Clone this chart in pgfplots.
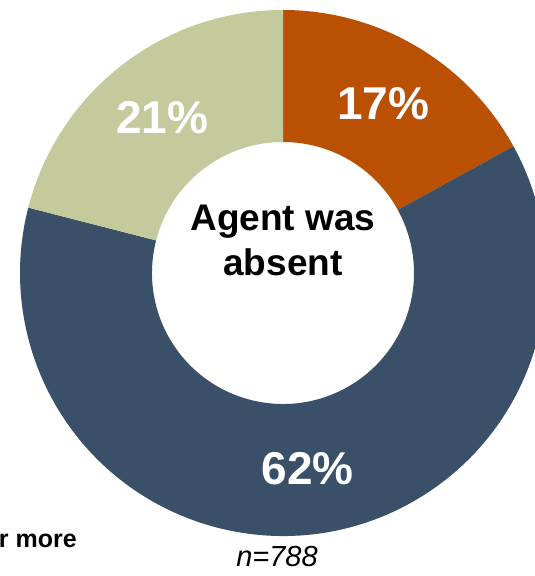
\documentclass[border=0pt]{standalone}
\usepackage{pgfplots}
\usepackage{pgfplotstable}
\pgfplotsset{compat=1.18}
\usepackage{fontspec}
\setmainfont{Liberation Sans}
\definecolor{cOrange}{RGB}{186,81,2}
\definecolor{cBlue}{RGB}{58,79,104}
\definecolor{cBeige}{RGB}{197,202,157}

\pgfplotstableread{
share color
17 cOrange
62 cBlue
21 cBeige
}\shares

\begin{document}
\begin{tikzpicture}
\pgfplotstablegetelem{0}{share}\of\shares \edef\sA{\pgfplotsretval}
\pgfplotstablegetelem{1}{share}\of\shares \edef\sB{\pgfplotsretval}
\pgfplotstablegetelem{2}{share}\of\shares \edef\sC{\pgfplotsretval}
\pgfmathsetmacro\aA{90}
\pgfmathsetmacro\aB{\aA-3.6*\sA}
\pgfmathsetmacro\aC{\aB-3.6*\sB}
\pgfmathsetmacro\aD{\aC-3.6*\sC}
\pgfmathsetmacro\mA{(\aA+\aB)/2}
\pgfmathsetmacro\mB{(\aB+\aC)/2}
\pgfmathsetmacro\mC{(\aC+\aD)/2}
\def\Ro{263bp}\def\Ri{131bp}\def\Rm{197bp}
\begin{axis}[
  scale only axis, width=535bp, height=576bp,
  xmin=-283, xmax=252, ymin=-303, ymax=273,
  axis lines=none, ticks=none, clip=true,
]
\path (rel axis cs:0,0) rectangle (rel axis cs:1,1);
\begin{scope}[overlay]
\clip (rel axis cs:0,0) rectangle (rel axis cs:1,1);
\fill[cOrange, shift={(axis cs:0,0)}] (\aA:\Ro) arc[start angle=\aA, end angle=\aB, radius=\Ro] -- (\aB:\Ri) arc[start angle=\aB, end angle=\aA, radius=\Ri] -- cycle;
\fill[cBlue, shift={(axis cs:0,0)}] (\aB:\Ro) arc[start angle=\aB, end angle=\aC, radius=\Ro] -- (\aC:\Ri) arc[start angle=\aC, end angle=\aB, radius=\Ri] -- cycle;
\fill[cBeige, shift={(axis cs:0,0)}] (\aC:\Ro) arc[start angle=\aC, end angle=\aD, radius=\Ro] -- (\aD:\Ri) arc[start angle=\aD, end angle=\aC, radius=\Ri] -- cycle;
\end{scope}
\node[text=white, font=\fontsize{46bp}{50bp}\selectfont\bfseries, shift={(axis cs:0,0)}] at (\mA:\Rm) {\sA\%};
\node[text=white, font=\fontsize{46bp}{50bp}\selectfont\bfseries, shift={(axis cs:0,0)}] at (\mB:\Rm) {\sB\%};
\node[text=white, font=\fontsize{46bp}{50bp}\selectfont\bfseries, shift={(axis cs:0,0)}] at (\mC:\Rm) {\sC\%};
\node[align=center, font=\fontsize{37bp}{45bp}\selectfont\bfseries] at (axis cs:0,33) {Agent was\\absent};
\node[font=\fontsize{29bp}{32bp}\selectfont\itshape] at (axis cs:-6,-284) {n=788};
\node[anchor=base east, inner sep=0pt, font=\fontsize{25bp}{28bp}\selectfont\bfseries] at (axis cs:-206,-274) {r more};
\end{axis}
\end{tikzpicture}
\end{document}
